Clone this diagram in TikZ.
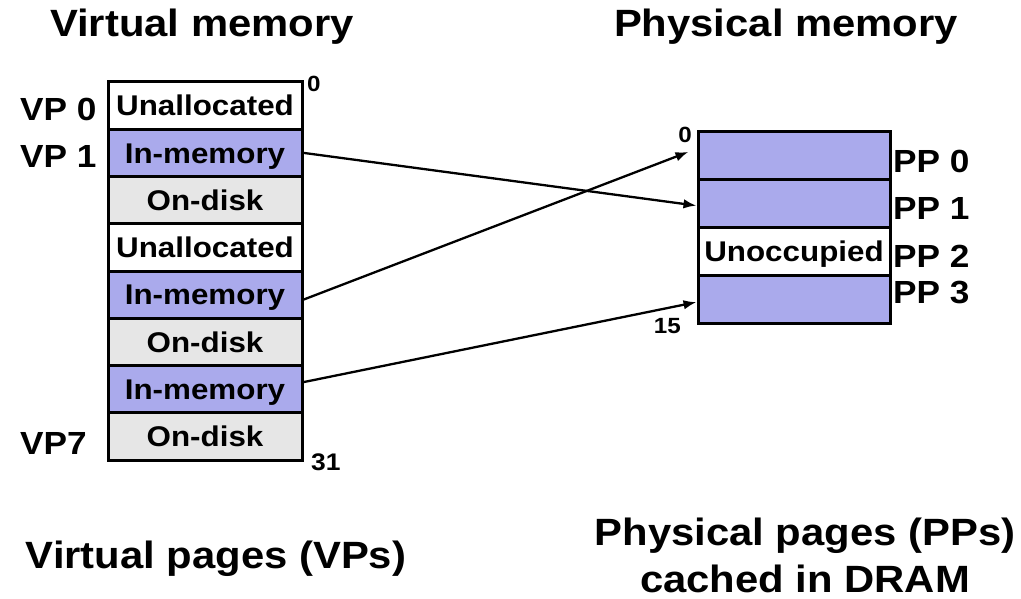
\documentclass[tikz,border=0pt]{standalone}
\usepackage{fontspec}
\setmainfont{Liberation Sans}[FakeStretch=1.1]
\usetikzlibrary{arrows.meta}
\definecolor{mempurple}{RGB}{170,170,236}
\definecolor{diskgray}{RGB}{230,230,230}
\begin{document}
\begin{tikzpicture}[x=1pt,y=-1pt,
  vcell/.style={draw,line width=3pt,minimum width=194pt,minimum height=47.25pt,inner sep=0pt,
    text height=20.5pt,text depth=0pt,font=\fontsize{28.5}{30}\selectfont\bfseries},
  pcell/.style={vcell,minimum width=192pt,minimum height=47.75pt},
  inmem/.style={fill=mempurple},
  ondisk/.style={fill=diskgray},
  unalloc/.style={fill=white},
  lbl/.style={anchor=base west,inner sep=0pt,font=\fontsize{32}{32}\selectfont\bfseries},
  title/.style={anchor=base,inner sep=0pt,font=\fontsize{38}{38}\selectfont\bfseries},
  addr/.style={inner sep=0pt,font=\fontsize{22}{22}\selectfont\bfseries},
  conn/.style={line width=2.3pt,-{Latex[length=13pt,width=9.5pt]}}
]
\path[use as bounding box] (0,0) rectangle (1021,599);

% titles
\node[title] (tv) at (202,37) {Virtual memory};
\node[title] (tp) at (786,37) {Physical memory};
\node[title] (bv) at (216,568) {Virtual pages (VPs)};
\node[title] (bp1) at (805,545) {Physical pages (PPs)};
\node[title] (bp2) at (805,592) {cached in DRAM};

% virtual memory cells
\node[vcell,unalloc] (v0) at (205,105.625) {Unallocated};
\node[vcell,inmem]   (v1) at (205,152.875) {In-memory};
\node[vcell,ondisk]  (v2) at (205,200.125) {On-disk};
\node[vcell,unalloc] (v3) at (205,247.375) {Unallocated};
\node[vcell,inmem]   (v4) at (205,294.625) {In-memory};
\node[vcell,ondisk]  (v5) at (205,341.875) {On-disk};
\node[vcell,inmem]   (v6) at (205,389.125) {In-memory};
\node[vcell,ondisk]  (v7) at (205,436.375) {On-disk};

% physical memory cells
\node[pcell,inmem]   (p0) at (794,155.875) {};
\node[pcell,inmem]   (p1) at (794,203.625) {};
\node[pcell,unalloc] (p2) at (794,251.375) {Unoccupied};
\node[pcell,inmem]   (p3) at (794,299.125) {};

% labels
\node[lbl] (lvp0) at (20,121) {VP 0};
\node[lbl] (lvp1) at (20,168) {VP 1};
\node[lbl] (lvp7) at (20,454) {VP7};
\node[lbl] (lpp0) at (893,173) {PP 0};
\node[lbl] (lpp1) at (893,220) {PP 1};
\node[lbl] (lpp2) at (893,267) {PP 2};
\node[lbl] (lpp3) at (893,303) {PP 3};

% addresses
\node[addr,anchor=base west] (a0) at (307,92) {0};
\node[addr,anchor=base west,font=\fontsize{24}{24}\selectfont\bfseries] (a31) at (311,470) {31};
\node[addr,anchor=base east] (b0) at (692,143) {0};
\node[addr,anchor=base east] (b15) at (681,333) {15};

% mappings
\draw[conn] (v1.east) -- ([yshift=-2pt]p1.west);
\draw[conn] ([yshift=-5pt]v4.east) -- ([xshift=-8pt,yshift=4pt]p0.west);
\draw[conn] ([yshift=7pt]v6.east) -- ([yshift=-3pt]p3.west);
\end{tikzpicture}
\end{document}
